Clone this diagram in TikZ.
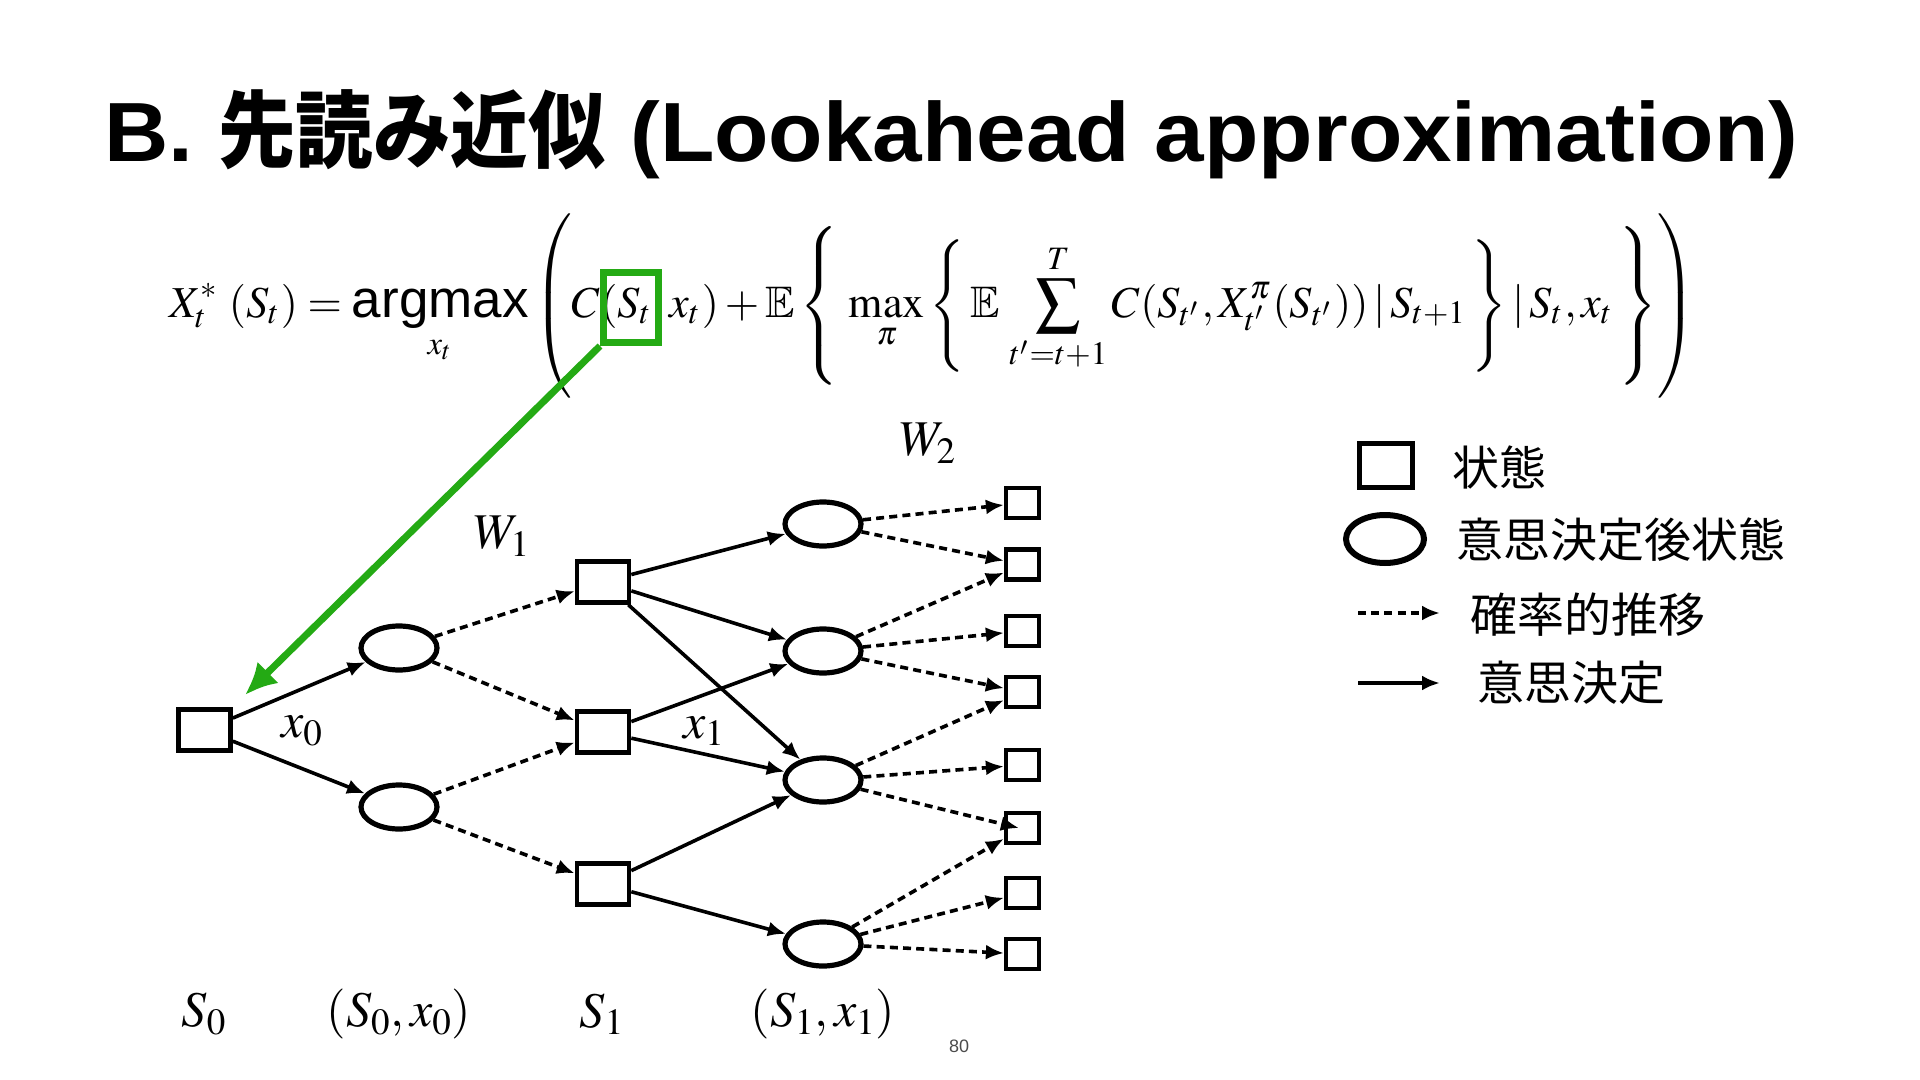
\documentclass[tikz,border=0pt]{standalone}
\usepackage{amssymb}
\usepackage{mathptmx}
\usepackage[no-math]{fontspec}
\setsansfont{Liberation Sans}
\newfontfamily\jpfont{Noto Sans CJK JP}
\newfontfamily\titlelat{Liberation Sans}
\usetikzlibrary{arrows.meta,shapes.geometric}
\definecolor{hlgreen}{RGB}{36,170,20}
\delimitershortfall=0pt
\delimiterfactor=1000
\begin{document}
\begin{tikzpicture}[x=0.5pt,y=-0.5pt,
  sq/.style={draw, line width=2.3pt, minimum width=26pt, minimum height=20.5pt, inner sep=0pt},
  leaf/.style={draw, line width=2.1pt, minimum width=16.5pt, minimum height=15pt, inner sep=0pt},
  pds/.style={draw, ellipse, line width=2.6pt, minimum width=38pt, minimum height=22pt, inner sep=0pt},
  dec/.style={-{Latex[length=9pt,width=7.5pt]}, line width=1.8pt},
  rnd/.style={dec, dash pattern=on 4pt off 2.6pt},
  lbl/.style={inner sep=0pt, font=\fontsize{25pt}{30pt}\selectfont},
  leg/.style={inner sep=0pt, anchor=west, font=\jpfont\fontsize{23.5pt}{28pt}\selectfont}]
\useasboundingbox[fill=white] (0,0) rectangle (1920,1080);

% title
\node[inner sep=0pt, anchor=west] (title) at (104,134)
  {\resizebox{847pt}{\height}{\fontsize{42pt}{48pt}\selectfont\titlelat\bfseries B. \scalebox{0.87}[1]{\jpfont\bfseries 先読み近似} (Lookahead approximation)}};

% formula
\node[inner sep=0pt, anchor=west] (formula) at (169,306)
  {\resizebox{763.5pt}{!}{$\displaystyle
  X_t^{*}\,\left(S_t\right) = \mathop{\textsf{\fontsize{12}{14}\selectfont argmax}}\limits_{x_t}
  \left(\rule[-1.6em]{0pt}{3.7em} C(S_t, x_t) + \mathbb{E}\left\{\rule[-1.425em]{0pt}{3.35em}\,\max_{\pi}
  \left\{\rule[-1.175em]{0pt}{2.85em}\,\mathbb{E}\,\sum_{t'=t+1}^{T} C(S_{t'}, X^{\pi}_{t'}(S_{t'}))\,|\,S_{t+1}\,\right\} |\,S_t, x_t\,\right\}\right)$}};

\node[draw=hlgreen, line width=3.5pt, minimum width=27.5pt, minimum height=35pt, inner sep=0pt] (gbox) at (631,307.5) {};

% tree nodes
\node[sq] (S0) at (204.5,730) {};
\node[pds] (A1) at (399,648) {};
\node[pds] (A2) at (399,807) {};
\node[sq] (B1) at (603,582) {};
\node[sq] (B2) at (603,732) {};
\node[sq] (B3) at (603,884) {};
\node[pds] (C1) at (823,524) {};
\node[pds] (C2) at (823,651) {};
\node[pds] (C3) at (823,780) {};
\node[pds] (C4) at (823,944) {};
\node[leaf] (L1) at (1022.5,503) {};
\node[leaf] (L2) at (1022.5,564.5) {};
\node[leaf] (L3) at (1022.5,631) {};
\node[leaf] (L4) at (1022.5,692) {};
\node[leaf] (L5) at (1022.5,765) {};
\node[leaf] (L6) at (1022.5,828) {};
\node[leaf] (L7) at (1022.5,893) {};
\node[leaf] (L8) at (1022.5,954) {};

% green arrow
\coordinate (gtip) at (245,695);
\draw[hlgreen, line width=3.5pt, -{Latex[length=16pt,width=15pt]}] (gbox.south west) -- (gtip);

% decisions
\draw[dec] (S0) -- (A1);
\draw[dec] (S0) -- (A2);
\draw[dec] (B1) -- (C1);
\draw[dec] (B1) -- (C2);
\draw[dec] (B1) -- (C3);
\draw[dec] (B2) -- (C2);
\draw[dec] (B2) -- (C3);
\draw[dec] (B3) -- (C3);
\draw[dec] (B3) -- (C4);

% random transitions
\draw[rnd] (A1) -- (B1);
\draw[rnd] (A1) -- (B2);
\draw[rnd] (A2) -- (B2);
\draw[rnd] (A2) -- (B3);
\draw[rnd] (C1) -- (L1);
\draw[rnd] (C1) -- (L2);
\draw[rnd] (C2) -- (L2);
\draw[rnd] (C2) -- (L3);
\draw[rnd] (C2) -- (L4);
\draw[rnd] (C3) -- (L4);
\draw[rnd] (C3) -- (L5);
\draw[rnd] (C3) -- ([xshift=7.5pt]L6.west);
\draw[rnd] (C4) -- (L6);
\draw[rnd] (C4) -- (L7);
\draw[rnd] (C4) -- (L8);

% labels
\node[lbl] (w2) at (928,443) {$W_2$};
\node[lbl] (w1) at (502,536) {$W_1$};
\node[lbl] (x0) at (302,731) {$x_0$};
\node[lbl] (x1) at (704,731) {$x_1$};
\node[lbl] (b0) at (204,1014) {$S_0$};
\node[lbl] (b1) at (399,1014) {$(S_0, x_0)$};
\node[lbl] (b2) at (602,1014) {$S_1$};
\node[lbl] (b3) at (823,1014) {$(S_1, x_1)$};
\node[inner sep=0pt, text=black!70, font=\sffamily\fontsize{9pt}{10pt}\selectfont] (pg) at (959,1046) {80};

% legend
\node[draw, line width=2.5pt, minimum width=26.5pt, minimum height=22pt, inner sep=0pt] (lsq) at (1386,465) {};
\node[draw, ellipse, line width=3pt, minimum width=39pt, minimum height=24pt, inner sep=0pt] (lell) at (1385,539) {};
\coordinate (lda) at (1358,613);
\coordinate (ldb) at (1440,613);
\coordinate (lsa) at (1358,683);
\coordinate (lsb) at (1440,683);
\draw[rnd] (lda) -- (ldb);
\draw[dec] (lsa) -- (lsb);
\node[leg] (t1) at (1452,467) {状態};
\node[leg] (t2) at (1456,540) {意思決定後状態};
\node[leg] (t3) at (1470,615) {確率的推移};
\node[leg] (t4) at (1477,683) {意思決定};
\end{tikzpicture}
\end{document}
